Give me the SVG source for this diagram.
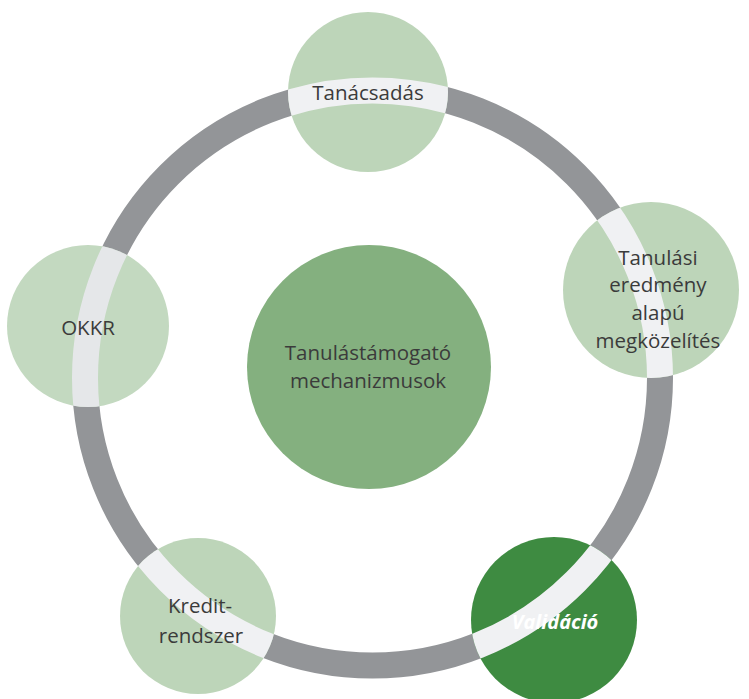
<svg xmlns="http://www.w3.org/2000/svg" width="749" height="699" viewBox="0 0 749 699">
<style>
.ring{fill:none;stroke:#939598;stroke-width:26}
.band{fill:none;stroke:#f0f1f3;stroke-width:26}
.sat{fill:#bdd5b9}
.lbl{font-family:"Open Sans","Liberation Sans",sans-serif;font-size:20.5px;fill:#3b3b3b;text-anchor:middle}
.val{font-family:"Open Sans","Liberation Sans",sans-serif;font-size:20px;font-weight:bold;font-style:italic;fill:#ffffff;text-anchor:middle}
</style>
<defs>
<clipPath id="c1"><circle cx="368" cy="92" r="80"/></clipPath>
<clipPath id="c2"><circle cx="651" cy="290" r="88"/></clipPath>
<clipPath id="c3"><circle cx="88" cy="326" r="81"/></clipPath>
<clipPath id="c4"><circle cx="198" cy="616" r="78"/></clipPath>
<clipPath id="c5"><circle cx="554" cy="620" r="83"/></clipPath>
</defs>
<rect width="749" height="699" fill="#ffffff"/>
<g id="connectors">
<circle class="ring" cx="372.5" cy="378" r="287.5"/>
</g>
<g id="center">
<circle cx="369" cy="367" r="122" fill="#84b07f"/>
<text class="lbl" x="368" y="360">Tanulástámogató</text>
<text class="lbl" x="368" y="388">mechanizmusok</text>
</g>
<g id="tanacsadas">
<circle class="sat" cx="368" cy="92" r="80"/>
<circle class="band" cx="372.5" cy="378" r="287.5" clip-path="url(#c1)"/>
<text class="lbl" x="368" y="100">Tanácsadás</text>
</g>
<g id="tanulasi">
<circle class="sat" cx="651" cy="290" r="88" fill="#bcd4b8"/>
<circle class="band" cx="372.5" cy="378" r="287.5" clip-path="url(#c2)"/>
<text class="lbl" x="658" y="265">Tanulási</text>
<text class="lbl" x="658" y="292">eredmény</text>
<text class="lbl" x="658" y="320">alapú</text>
<text class="lbl" x="658" y="348">megközelítés</text>
</g>
<g id="okkr">
<circle class="sat" cx="88" cy="326" r="81" style="fill:#c3d9c0"/>
<circle class="band" cx="372.5" cy="378" r="287.5" clip-path="url(#c3)" style="stroke:#e5e7e9"/>
<text class="lbl" x="88" y="335">OKKR</text>
</g>
<g id="kredit">
<circle class="sat" cx="198" cy="616" r="78"/>
<circle class="band" cx="372.5" cy="378" r="287.5" clip-path="url(#c4)"/>
<text class="lbl" x="200" y="613">Kredit-</text>
<text class="lbl" x="201" y="643">rendszer</text>
</g>
<g id="validacio">
<circle cx="554" cy="620" r="83" fill="#3e8b41"/>
<circle class="band" cx="372.5" cy="378" r="287.5" clip-path="url(#c5)"/>
<text class="val" x="555" y="629">Validáció</text>
</g>
</svg>
